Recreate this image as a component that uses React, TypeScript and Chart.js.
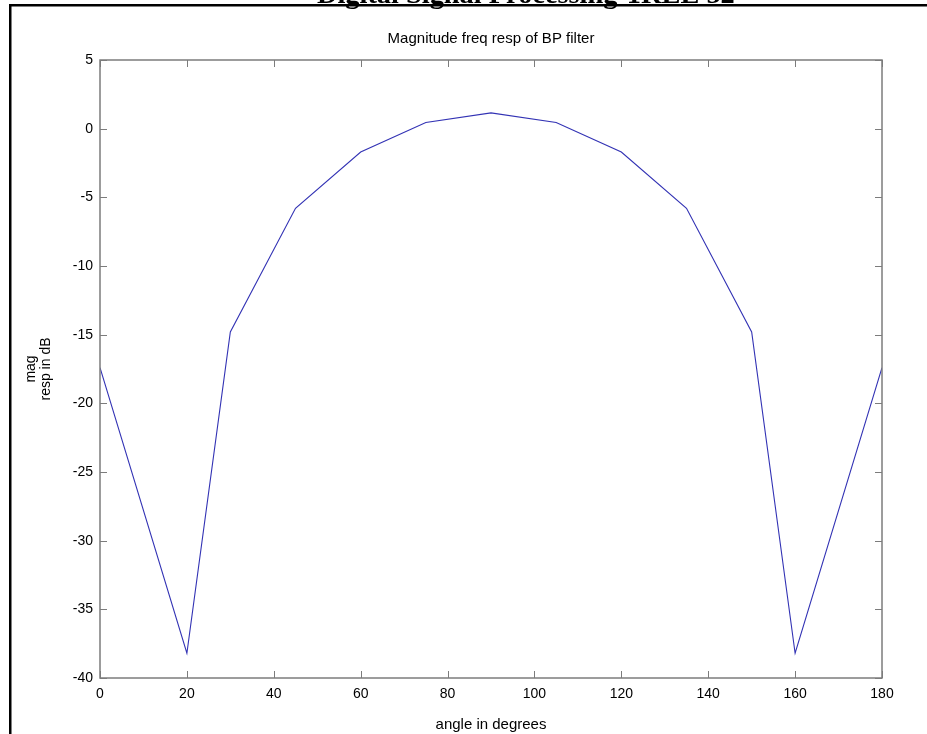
import React, { useEffect, useRef } from 'react';
import { Chart, registerables } from 'chart.js';

Chart.register(...registerables);

// ---- data ----
const angles = [0, 20, 30, 45, 60, 75, 90, 105, 120, 135, 150, 160, 180];
const magDb = [-17.4, -38.2, -14.8, -5.8, -1.7, 0.45, 1.15, 0.45, -1.7, -5.8, -14.8, -38.2, -17.4];
const xTicks = [0, 20, 40, 60, 80, 100, 120, 140, 160, 180];
const yTicks = [5, 0, -5, -10, -15, -20, -25, -30, -35, -40];
const plotTitle = 'Magnitude freq resp of BP filter';
const headerText = 'Digital Signal Processing-1RLE 52';
const xLabel = 'angle in degrees';
const yLabel = ['mag', 'resp in dB'];

const W = 927;
const H = 734;
const SANS = '"Liberation Sans", Arial, Helvetica, sans-serif';

const decorPlugin = {
  id: 'decor',
  afterDraw(chart: any) {
    const { ctx, chartArea: a, scales } = chart;
    ctx.save();
    // axes box
    ctx.strokeStyle = '#7c7c7c';
    ctx.lineWidth = 1.5;
    ctx.strokeRect(a.left, a.top, a.right - a.left, a.bottom - a.top);
    // inward tick marks on all four sides
    const tl = 7;
    ctx.lineWidth = 1;
    ctx.beginPath();
    for (const v of xTicks) {
      const px = Math.round(scales.x.getPixelForValue(v)) + 0.5;
      ctx.moveTo(px, a.bottom);
      ctx.lineTo(px, a.bottom - tl);
      ctx.moveTo(px, a.top);
      ctx.lineTo(px, a.top + tl);
    }
    for (const v of yTicks) {
      const py = Math.round(scales.y.getPixelForValue(v)) + 0.5;
      ctx.moveTo(a.left, py);
      ctx.lineTo(a.left + tl, py);
      ctx.moveTo(a.right, py);
      ctx.lineTo(a.right - tl, py);
    }
    ctx.stroke();

    // plot title
    ctx.fillStyle = '#000';
    ctx.font = `15px ${SANS}`;
    ctx.textAlign = 'center';
    ctx.textBaseline = 'alphabetic';
    ctx.fillText(plotTitle, (a.left + a.right) / 2, 43);

    // page border (left + top)
    ctx.fillStyle = '#000';
    ctx.fillRect(9, 4, W - 9, 2.5);
    ctx.fillRect(9, 4, 2.5, H - 4);

    // cut-off page header
    ctx.font = 'bold 24px "Liberation Serif", "Times New Roman", serif';
    const mw = ctx.measureText(headerText).width;
    const size = 24 * 418 / mw;
    ctx.font = `bold ${size}px "Liberation Serif", "Times New Roman", serif`;
    ctx.textAlign = 'left';
    ctx.textBaseline = 'alphabetic';
    ctx.fillText(headerText, 317, 3);
    ctx.restore();
  },
};

export default function App() {
  const ref = useRef<HTMLCanvasElement | null>(null);

  useEffect(() => {
    if (!ref.current) return;
    const chart = new Chart(ref.current, {
      type: 'line',
      data: {
        datasets: [
          {
            data: angles.map((x, i) => ({ x, y: magDb[i] })),
            borderColor: 'rgb(50,50,180)',
            borderWidth: 1.1,
            pointRadius: 0,
            tension: 0,
            fill: false,
          },
        ],
      },
      options: {
        animation: false,
        responsive: false,
        devicePixelRatio: 1,
        layout: { padding: { left: 0, right: 45, top: 60, bottom: 0 } },
        plugins: {
          legend: { display: false },
          tooltip: { enabled: false },
          title: { display: false },
        },
        scales: {
          x: {
            type: 'linear',
            min: 0,
            max: 180,
            afterBuildTicks: (s: any) => {
              s.ticks = xTicks.map((v) => ({ value: v }));
            },
            afterFit: (s: any) => {
              s.height = 56;
            },
            grid: { display: false, drawTicks: false },
            border: { display: false },
            ticks: {
              autoSkip: false,
              maxRotation: 0,
              minRotation: 0,
              padding: 8,
              color: '#000',
              font: { family: SANS, size: 14 },
            },
            title: {
              display: true,
              text: xLabel,
              color: '#000',
              font: { family: SANS, size: 15, lineHeight: 1.2 },
              padding: { top: 0, bottom: 0 },
            },
          },
          y: {
            type: 'linear',
            min: -40,
            max: 5,
            afterBuildTicks: (s: any) => {
              s.ticks = yTicks.map((v) => ({ value: v }));
            },
            afterFit: (s: any) => {
              s.width = 100;
            },
            grid: { display: false, drawTicks: false },
            border: { display: false },
            ticks: {
              autoSkip: false,
              padding: 7,
              color: '#000',
              font: { family: SANS, size: 14 },
            },
            title: {
              display: true,
              text: yLabel,
              color: '#000',
              font: { family: SANS, size: 14, lineHeight: 1.07 },
              padding: { top: 23.5, bottom: 0 },
            },
          },
        },
      },
      plugins: [decorPlugin],
    } as any);
    return () => chart.destroy();
  }, []);

  return (
    <div style={{ position: 'fixed', left: 0, top: 0, width: W, height: H, background: '#fff' }}>
      <canvas ref={ref} width={W} height={H} style={{ width: W, height: H, display: 'block' }} />
    </div>
  );
}
